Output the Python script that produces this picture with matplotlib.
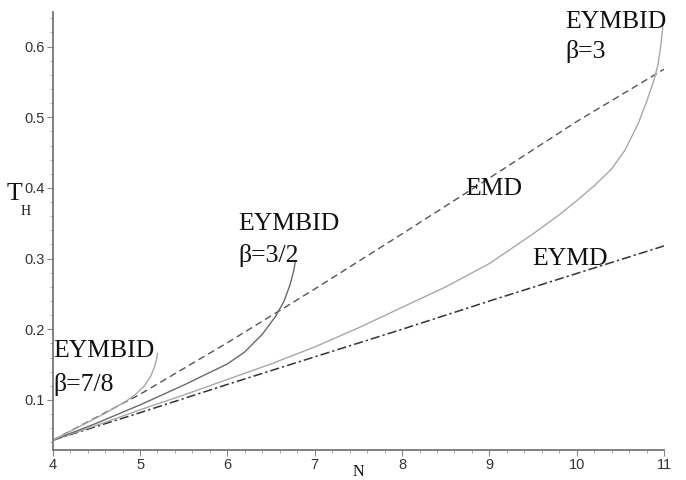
import matplotlib
matplotlib.use("Agg")
import matplotlib.pyplot as plt
from matplotlib.ticker import MultipleLocator

# EMD (dashed)
n_emd = [4, 5, 6, 7, 8, 9, 10, 11]
t_emd = [0.043, 0.108, 0.181, 0.257, 0.335, 0.414, 0.494, 0.568]

# EYMD (dash-dot)
n_eymd = [4, 5, 6, 7, 8, 9, 10, 11]
t_eymd = [0.043, 0.082, 0.122, 0.161, 0.200, 0.240, 0.279, 0.318]

# EYMBID, beta = 3
n_b3 = [4, 4.5, 5, 5.5, 6, 6.5, 7, 7.5, 8, 8.5, 9, 9.5, 9.8, 10.0, 10.2,
        10.4, 10.55, 10.7, 10.8, 10.88, 10.93, 10.96, 10.98, 11.0]
t_b3 = [0.043, 0.064, 0.086, 0.107, 0.129, 0.151, 0.175, 0.202, 0.231, 0.260,
        0.293, 0.335, 0.362, 0.382, 0.403, 0.427, 0.453, 0.490, 0.522, 0.551,
        0.574, 0.599, 0.621, 0.649]

# EYMBID, beta = 3/2
n_b32 = [4, 4.5, 5, 5.5, 6, 6.2, 6.4, 6.55, 6.65, 6.72, 6.76, 6.78]
t_b32 = [0.043, 0.067, 0.093, 0.121, 0.151, 0.168, 0.193, 0.218, 0.240, 0.264,
         0.283, 0.297]

# EYMBID, beta = 7/8
n_b78 = [4, 4.3, 4.6, 4.85, 4.95, 5.05, 5.12, 5.17, 5.19, 5.20]
t_b78 = [0.043, 0.062, 0.081, 0.099, 0.108, 0.120, 0.133, 0.148, 0.158, 0.166]

x_ticks = [4, 5, 6, 7, 8, 9, 10, 11]
y_ticks = [0.1, 0.2, 0.3, 0.4, 0.5, 0.6]

SERIF = "Liberation Serif"
SANS = "Liberation Sans"

fig = plt.figure(figsize=(6.86, 4.80), dpi=100)
ax = fig.add_axes([0.0768, 0.0625, 0.8912, 0.9125])

ax.plot(n_emd, t_emd, color="#555555", lw=1.0, dashes=(5, 3))
ax.plot(n_eymd, t_eymd, color="#333333", lw=1.1, dashes=(6, 2, 1.5, 2))
ax.plot(n_b3, t_b3, color="#a8a8a8", lw=1.0)
ax.plot(n_b32, t_b32, color="#6a6a6a", lw=1.0)
ax.plot(n_b78, t_b78, color="#a8a8a8", lw=1.0)

ax.set_xlim(4, 11)
ax.set_ylim(0.0292, 0.649)
ax.set_xticks(x_ticks)
ax.set_yticks(y_ticks)
ax.set_xticklabels([str(v) for v in x_ticks])
ax.set_yticklabels([f"{v:.1f}" for v in y_ticks])
ax.xaxis.set_minor_locator(MultipleLocator(0.2))
ax.yaxis.set_minor_locator(MultipleLocator(0.02))

for s in ["top", "right"]:
    ax.spines[s].set_visible(False)
for s in ["left", "bottom"]:
    ax.spines[s].set_color("#777777")
    ax.spines[s].set_linewidth(1.3)

ax.tick_params(which="major", direction="out", length=4, width=0.8,
               color="#888888", labelsize=10.5, labelcolor="#333333")
ax.tick_params(which="minor", direction="out", length=2, width=0.6,
               color="#999999")
ax.tick_params(axis="x", which="major", pad=2)
ax.tick_params(axis="y", which="major", pad=2)
for lab in ax.get_xticklabels() + ax.get_yticklabels():
    lab.set_fontfamily(SANS)

# curve labels
lab_kw = dict(fontfamily=SERIF, fontsize=18.5, color="#111111",
              va="baseline", ha="left")
ax.text(9.868, 0.6265, "EYMBID", **lab_kw)
ax.text(9.868, 0.584, "β=3", **lab_kw)
ax.text(6.122, 0.3406, "EYMBID", **lab_kw)
ax.text(6.122, 0.2953, "β=3/2", **lab_kw)
ax.text(4.003, 0.1609, "EYMBID", **lab_kw)
ax.text(4.003, 0.1127, "β=7/8", **lab_kw)
ax.text(8.723, 0.390, "EMD", **lab_kw)
ax.text(9.49, 0.291, "EYMD", **lab_kw)

# axis labels
fig.text(7 / 686, 1 - 200 / 480, "T", fontfamily=SERIF, fontsize=18.5,
         va="baseline", ha="left", color="#111111")
fig.text(21 / 686, 1 - 215 / 480, "H", fontfamily=SERIF, fontsize=10,
         va="baseline", ha="left", color="#111111")
fig.text(358 / 686, 1 - 476.5 / 480, "N", fontfamily=SERIF, fontsize=11.5,
         va="baseline", ha="center", color="#111111")

fig.savefig("out.png", dpi=100)
